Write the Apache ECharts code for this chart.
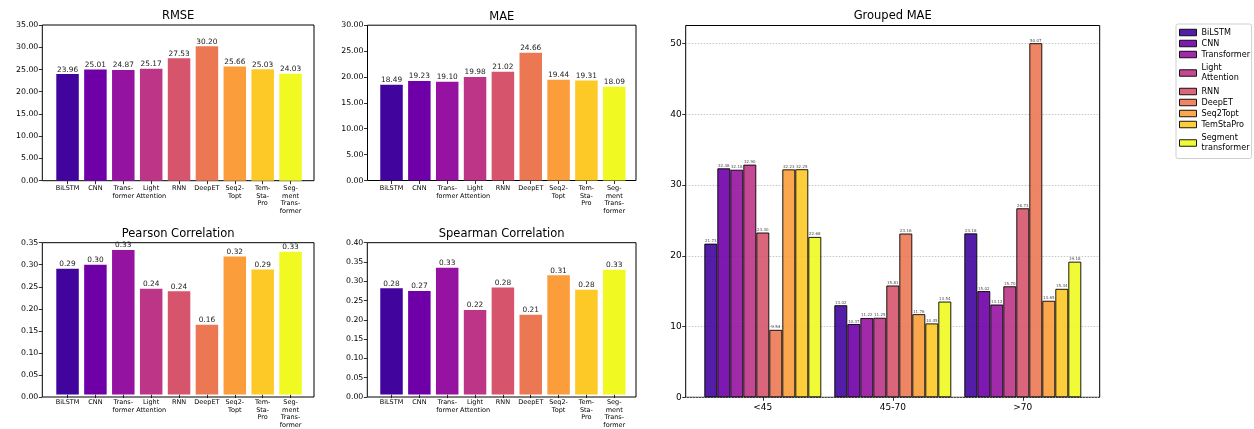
<!DOCTYPE html>
<html>
<head>
<meta charset="utf-8">
<script src="https://cdn.jsdelivr.net/npm/echarts@6/dist/echarts.min.js"></script>
<style>html,body{margin:0;padding:0;background:#fff}#c{width:1254px;height:429px}</style>
</head>
<body>
<div id="c"></div>
<script>
// ---- data ----
const models = ['BiLSTM','CNN','Transformer','Light\nAttention','RNN','DeepET','Seq2Topt','TemStaPro','Segment\ntransformer'];
const shortLabels = ['BiLSTM','CNN','Trans-\nformer','Light\nAttention','RNN','DeepET','Seq2-\nTopt','Tem-\nSta-\nPro','Seg-\nment\nTrans-\nformer'];
const rmse = [23.96, 25.01, 24.87, 25.17, 27.53, 30.20, 25.66, 25.03, 24.03];
const mae = [18.49, 19.23, 19.10, 19.98, 21.02, 24.66, 19.44, 19.31, 18.09];
const pearson = [0.290, 0.299, 0.333, 0.244, 0.238, 0.161, 0.318, 0.288, 0.329];
const spearman = [0.280, 0.273, 0.334, 0.223, 0.282, 0.210, 0.314, 0.276, 0.329];
const ageGroups = ['<45', '45-70', '>70'];
const maeLt45 = [21.73, 32.38, 32.18, 32.90, 23.30, 9.54, 32.23, 32.25, 22.68];
const mae45to70 = [13.02, 10.37, 11.22, 11.25, 15.81, 23.16, 11.76, 10.45, 13.54];
const maeGt70 = [23.18, 15.02, 13.12, 15.70, 26.73, 50.07, 13.65, 15.34, 19.18];
const groupedTicks = [0, 10, 20, 30, 40, 50];
const colors = ['#41049d','#6f00a8','#9613a1','#bc3587','#d6556d','#ec7853','#fb9d3b','#fdc926','#f0f921'];

const FONT = 'DejaVu Sans';
const grids = [], xAxes = [], yAxes = [], series = [], titles = [];

function addPanel(p) {
  const gi = grids.length;
  grids.push({left: p.left, top: p.top, width: p.right - p.left, height: p.bottom - p.top,
    show: true, borderColor: '#000', borderWidth: 1, backgroundColor: 'transparent'});
  grids.push({left: p.innerLeft, top: p.top, width: p.innerWidth, height: p.bottom - p.top, show: false});
  xAxes.push({gridIndex: gi, type: 'value', show: false, min: 0, max: 1});
  yAxes.push({gridIndex: gi, type: 'value', min: 0, max: p.max, interval: p.interval,
    axisLine: {show: false},
    axisTick: {show: true, length: 3.5, lineStyle: {color: '#000', width: 0.8}, customValues: p.ticks},
    axisLabel: {color: '#000', fontSize: p.yFont, fontFamily: FONT, margin: 4, customValues: p.ticks,
      formatter: p.yFmt},
    splitLine: p.split ? {show: true, lineStyle: {color: '#b8b8b8', width: 0.8, type: [1.5, 1.5]}} : {show: false}
  });
  const xi = xAxes.length;
  xAxes.push({gridIndex: gi + 1, type: 'category', data: p.cats,
    axisLine: {show: false},
    axisTick: {show: true, alignWithLabel: true, length: 3.5, lineStyle: {color: '#000', width: 0.8}},
    axisLabel: {interval: 0, color: '#000', fontSize: p.xFont, lineHeight: p.xLine, fontFamily: FONT, margin: p.xMargin}
  });
  const yi = yAxes.length;
  yAxes.push({gridIndex: gi + 1, type: 'value', min: 0, max: p.max, show: false});
  titles.push({text: p.title, left: (p.left + p.right) / 2, top: p.top - p.titleOff, textAlign: 'center', padding: 0,
    textStyle: {fontSize: 11.5, fontWeight: 'normal', color: '#000', fontFamily: FONT}});
  return {xi, yi};
}

function smallPanel(p, values, digits) {
  const a = addPanel(Object.assign({cats: shortLabels, xFont: 6.5, xLine: 7.6, xMargin: 4, yFont: 7.8,
    yFmt: v => v.toFixed(2), split: false, ticks: undefined}, p));
  series.push({type: 'bar', name: p.title, xAxisIndex: a.xi, yAxisIndex: a.yi, barWidth: 22.5,
    data: values.map((v, i) => ({value: v, itemStyle: {color: colors[i]}})),
    label: {show: true, position: 'top', distance: 1, fontSize: 7.4, color: '#222', fontFamily: FONT,
      formatter: q => q.value.toFixed(digits)}
  });
}

smallPanel({title: 'RMSE', left: 42.3, right: 314, top: 25, bottom: 180.7, innerLeft: 53.6, innerWidth: 250.9, max: 35, interval: 5, titleOff: 14.5}, rmse, 2);
smallPanel({title: 'MAE', left: 367.5, right: 636, top: 25.2, bottom: 180.5, innerLeft: 377.6, innerWidth: 250.6, max: 30, interval: 5, titleOff: 14.5}, mae, 2);
smallPanel({title: 'Pearson Correlation', left: 42.3, right: 314, top: 242.7, bottom: 397, innerLeft: 53.6, innerWidth: 250.9, max: 0.35, interval: 0.05, titleOff: 15}, pearson, 2);
smallPanel({title: 'Spearman Correlation', left: 367.3, right: 636, top: 242.7, bottom: 397, innerLeft: 377.6, innerWidth: 250.6, max: 0.40, interval: 0.05, titleOff: 15}, spearman, 2);

// grouped panel
const g = addPanel({title: 'Grouped MAE', left: 685.7, right: 1099.7, top: 25.5, bottom: 397.3,
  innerLeft: 697.8, innerWidth: 390, max: 52.57, interval: 10, cats: ageGroups, xFont: 9, xLine: 11, xMargin: 5,
  yFont: 9, yFmt: v => (Math.abs(v % 10) < 1e-9 ? String(v) : ''), split: true, ticks: groupedTicks, titleOff: 15});
const groupedByModel = models.map((m, i) => [maeLt45[i], mae45to70[i], maeGt70[i]]);
models.forEach((m, i) => {
  series.push({type: 'bar', name: m, xAxisIndex: g.xi, yAxisIndex: g.yi, barWidth: 13, barGap: '0%',
    data: groupedByModel[i],
    itemStyle: {color: colors[i], borderColor: '#000', borderWidth: 1, opacity: 0.9},
    label: {show: true, position: 'top', distance: 0.5, fontSize: 4, color: '#333', fontFamily: FONT,
      formatter: q => q.value.toFixed(2)}
  });
});

const legendData = models.map(m => m.indexOf('\n') >= 0
  ? {name: m, textStyle: {lineHeight: 10.3, padding: [2.2, 0, 2.2, 0]}}
  : {name: m});

const chart = echarts.init(document.getElementById('c'), null, {renderer: 'canvas'});
chart.setOption({
  backgroundColor: '#fff',
  animation: false,
  title: titles,
  grid: grids,
  xAxis: xAxes,
  yAxis: yAxes,
  legend: {data: legendData, orient: 'vertical', left: 1176, top: 24, padding: [3.5, 1.5, 3, 3],
    itemWidth: 17, itemHeight: 6.5, itemGap: 1, icon: 'rect',
    borderColor: '#d0d0d0', borderWidth: 1, borderRadius: 2, backgroundColor: '#fff',
    itemStyle: {borderColor: '#000', borderWidth: 1},
    textStyle: {fontSize: 8.1, lineHeight: 10, color: '#000', fontFamily: FONT}},
  series: series
});
</script>
</body>
</html>
